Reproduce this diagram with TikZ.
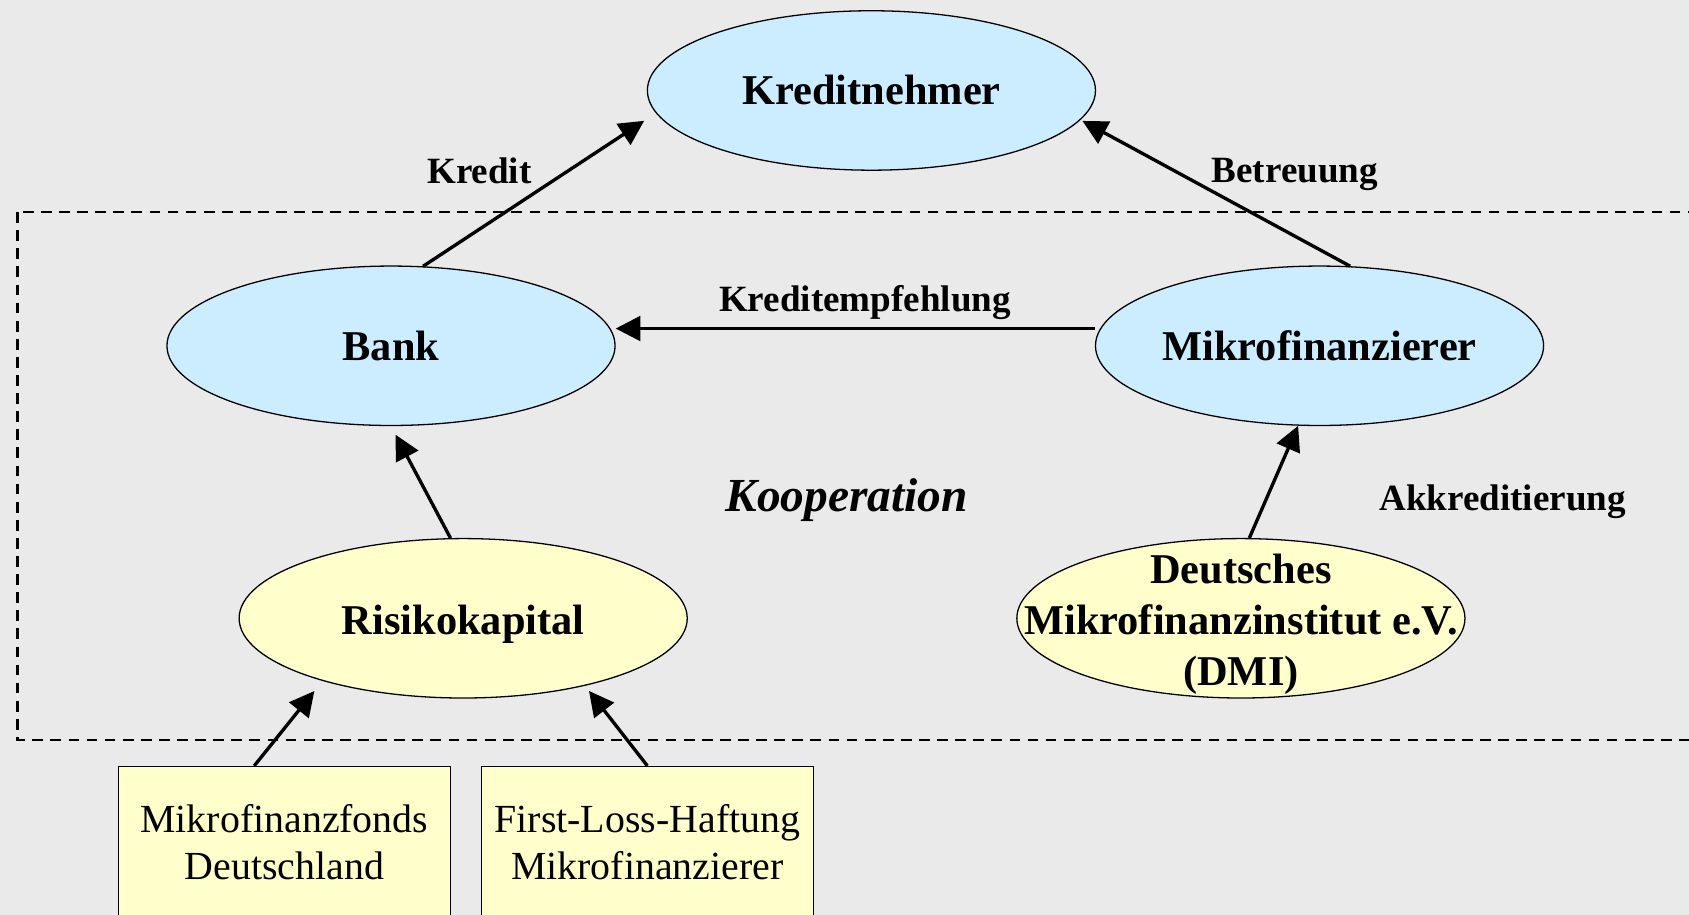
\documentclass[tikz,border=0pt]{standalone}
\usepackage{fontspec}
\setmainfont{Liberation Serif}
\usetikzlibrary{shapes.geometric,arrows.meta}
\definecolor{grau}{HTML}{EAEAEA}
\definecolor{hellblau}{HTML}{CCECFF}
\definecolor{hellgelb}{HTML}{FFFFCC}
\newcommand{\tiefer}[1]{\raisebox{-2.75pt}[\height][\depth]{#1}}

\begin{document}
\begin{tikzpicture}[x=0.5pt,y=-0.5pt,
        akteur/.style={ellipse,draw,line width=0.6pt,fill=hellblau,minimum width=208pt,minimum height=74pt,inner sep=0pt,align=center,font=\fontsize{19.7}{23.75}\selectfont\bfseries},
        kapital/.style={akteur,fill=hellgelb},
        quelle/.style={rectangle,draw,line width=0.6pt,fill=hellgelb,anchor=north,minimum width=154pt,minimum height=70pt,inner sep=0pt,align=center,font=\fontsize{18.5}{22}\selectfont},
        etikett/.style={font=\fontsize{17.2}{20}\selectfont\bfseries},
        >={Triangle[length=11.5pt,width=11.5pt]}]
            \useasboundingbox (0,0) rectangle (1568,849);
            \fill[grau] (0,0) rectangle (1568,849);
            \clip (0,0) rectangle (1568,849);

            \draw[line width=1.2pt,dash pattern=on 5pt off 3.4pt] (16,197) rectangle (1600,687);

            \node[akteur] (kn) at (809,84) {Kreditnehmer};
            \node[akteur] (bank) at (363,321) {Bank};
            \node[akteur] (mf) at (1225,321) {Mikrofinanzierer};
            \node[kapital] (rk) at (430,574) {\tiefer{Risikokapital}};
            \node[kapital,inner xsep=-36pt,inner ysep=-12pt] (dmi) at (1152,574) {\tiefer{Deutsches}\\\tiefer{Mikrofinanzinstitut e.V.}\\\tiefer{(DMI)}};
            \node[quelle] (mfd) at (264,711) {Mikrofinanzfonds\\Deutschland};
            \node[quelle] (flh) at (601,711) {First-Loss-Haftung\\Mikrofinanzierer};

            \node[etikett] (kredit) at (445,159) {Kredit};
            \node[etikett] (betreuung) at (1202,162) {Betreuung};
            \node[etikett] (empf) at (803,281) {Kreditempfehlung};
            \node[etikett] (akkr) at (1395,466) {Akkreditierung};
            \node[font=\fontsize{22}{26}\selectfont\bfseries\itshape] (koop) at (786,464) {Kooperation};

            \begin{scope}[line width=1.55pt]
            \draw[->,shorten >=6.5pt] (bank.68) to (kn.186.5);
            \draw[->,shorten >=1pt] (mf.69) to (kn.-8);
            \draw[->] ([yshift=8pt]mf.west) to ([yshift=8pt]bank.east);
            \draw[->,shorten >=4.5pt] (rk.99) to (bank.south);
            \draw[->] (dmi.84) to (mf.255);
            \draw[->,shorten >=6pt] ([xshift=-14pt]mfd.north) to (rk.204);
            \draw[->,shorten >=3pt] (flh.north) to (rk.-29);
            \end{scope}
        \end{tikzpicture}
\end{document}
